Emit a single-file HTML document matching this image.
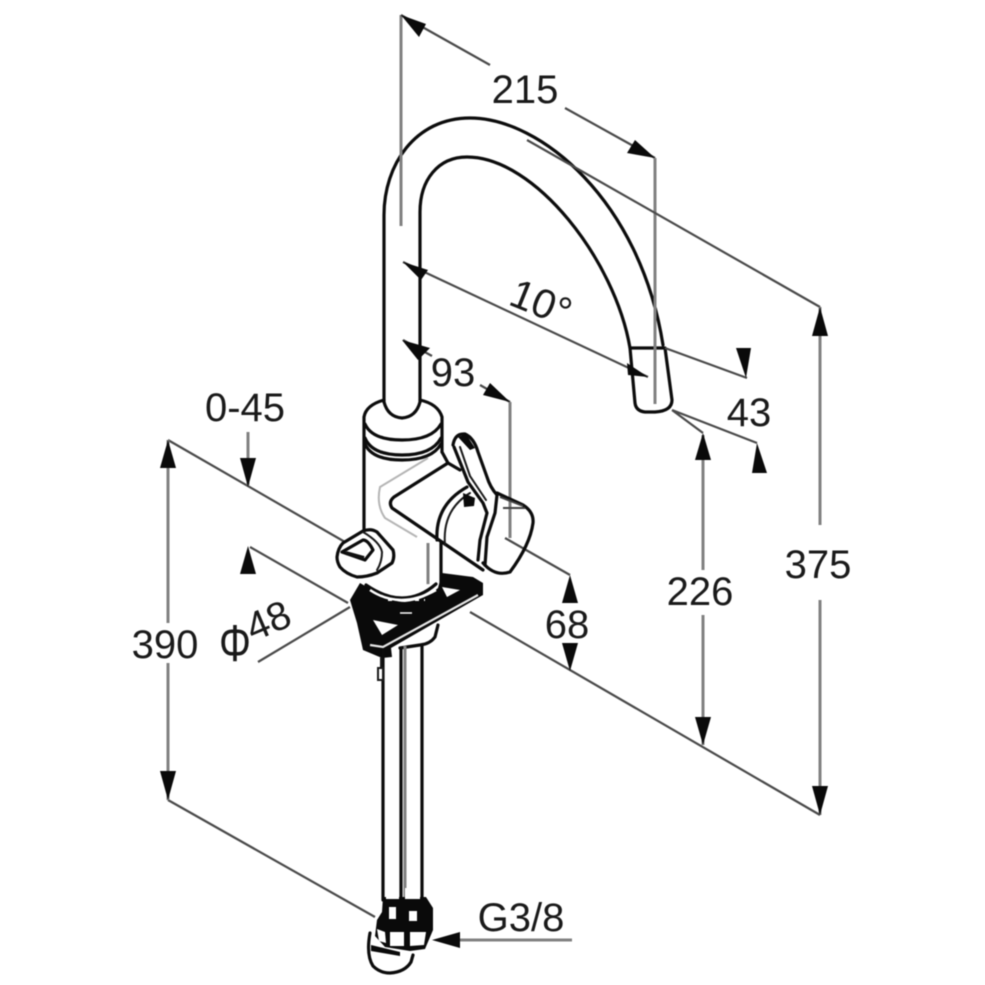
<!DOCTYPE html>
<html><head><meta charset="utf-8"><style>
html,body{margin:0;padding:0;background:#fff}
svg{display:block;filter:blur(.6px)}
text{font-family:"Liberation Sans",sans-serif;font-size:40px;fill:#1a1a1a}
.k{fill:none;stroke:#0c0c0c;stroke-width:3.2;stroke-linecap:round;stroke-linejoin:round}
.t{fill:none;stroke:#1a1a1a;stroke-width:2;stroke-linecap:round}
.d{fill:none;stroke:#4a4a4a;stroke-width:2.2}
.g{fill:none;stroke:#808080;stroke-width:3}
.a{fill:#0a0a0a;stroke:none}
.w{fill:#fff;stroke:none}
</style></head><body>
<svg width="985" height="985" viewBox="0 0 985 985" xmlns="http://www.w3.org/2000/svg">
<rect width="985" height="985" fill="#fff"/>

<!-- spout -->
<path class="k" d="M384 402V215C384 165 415 118 470 118C540 118 640 200 663 345"/>
<path class="k" d="M420 402V212C420 180 438 157 467 157C535 157 615 260 630 348"/>
<path class="k" d="M630 348H665L672 400Q672 411 655 412H645Q636 411 635 403L630 348"/>

<!-- extension and dimension lines -->
<path class="g" d="M401 15V226"/>
<path class="d" d="M401 15L490 65M565 108L655 158"/>
<path class="g" d="M655 158V404"/>
<path class="d" d="M527 140L820 307"/>
<path class="g" d="M820 307V525M820 600V815"/>
<path class="d" d="M470 612L820 815"/>
<path class="d" d="M168 440L345 542"/>
<path class="d" d="M168 800L375 917"/>
<path class="g" d="M168 440V623M168 663V800"/>
<path class="d" d="M403 262L648 377"/>
<path class="d" d="M403 340L432 356M480 385L510 402"/>
<path class="g" d="M510 402V538"/>
<path class="d" d="M505 538L570 575"/>
<path class="g" d="M703 435V570M703 615V745"/>
<path class="d" d="M665 348L747 378M672 410L757 443M672 410L703 433"/>
<path class="g" d="M248 432V485"/>
<path class="d" d="M250 547L348 603M258 662L350 607"/>
<path class="g" d="M460 940H572"/>

<!-- arrowheads -->
<path class="a" d="M401 15L426 24L419 37Z"/>
<path class="a" d="M655 158L627 153L635 140Z"/>
<path class="a" d="M820 307L828 336H812Z"/>
<path class="a" d="M820 815L828 786H812Z"/>
<path class="a" d="M168 440L176 468H160Z"/>
<path class="a" d="M168 800L176 771H160Z"/>
<path class="a" d="M403 262L428 270L421 280Z"/>
<path class="a" d="M648 377L627 363L628 375Z"/>
<path class="a" d="M402 340L430 348L418 360Z"/>
<path class="a" d="M510 402L483 395L490 383Z"/>
<path class="a" d="M570 575L578 603H562Z"/>
<path class="a" d="M570 671L578 643H562Z"/>
<path class="a" d="M703 433L711 460H695Z"/>
<path class="a" d="M703 745L711 717H695Z"/>
<path class="a" d="M746 378L736 348H751Z"/>
<path class="a" d="M757 443L767 473H752Z"/>
<path class="a" d="M248 487L240 458H256Z"/>
<path class="a" d="M248 546L256 574H240Z"/>
<path class="a" d="M432 940L460 932V948Z"/>

<!-- body -->
<path class="k" d="M364 530V417Q366 405 384 400M420 400Q438 404 442 417V452"/>
<path class="k" d="M384 402Q388 417 402 418Q416 417 420 402"/>
<path class="k" d="M365 424Q372 440 402 440Q432 440 441 424"/>
<path class="k" d="M365 438Q372 455 402 455Q432 455 441 438"/>
<path class="k" d="M365 444Q372 460 402 460Q432 460 441 444"/>
<path d="M428 458L380 487Q376 505 385 518L417 537" fill="none" stroke="#b5b5b5" stroke-width="2"/>
<path class="k" d="M448 463L394 497Q388 502 392 508L483 570"/>
<path class="k" d="M442 452L448 463L460 470"/>
<path class="k" d="M497 493L523 505Q534 512 533 523Q530 545 510 572Q495 577 483 563"/>
<path class="k" d="M437 540Q435 505 467 487"/>
<path class="t" d="M445 545Q442 510 470 493"/>
<path class="k" d="M453 445Q455 433 465 434Q474 438 478 452L487 477Q490 487 497 495L495 513L487 537L485 565"/>
<path class="k" d="M454 447L468 482L483 503L487 513L480 540L478 560"/>
<path class="t" d="M460 447L470 476L486 500"/>
<path class="a" d="M463 493L475 498L474 506L464 507Z"/>
<path class="a" d="M458 437L466 434L475 448L470 450Z"/>
<path d="M500 497L523 506M503 508H525" fill="none" stroke="#444" stroke-width="2"/>
<path class="g" d="M428 543V585"/>
<path class="k" d="M441 543V585"/>

<!-- knob -->
<path class="k" style="fill:#fff" d="M337 557Q338 548 343 543L363 531Q371 528 377 532L393 550Q395 557 392 563L377 573Q367 577 357 577Q346 574 340 567Q337 562 337 557Z"/>
<path class="k" d="M342 552L363 540Q368 540 373 550L365 560Z"/>
<path d="M346 553L364 558" stroke="#111" stroke-width="4" fill="none"/>
<path class="t" d="M363 532Q380 542 382 552Q382 562 377 570"/>

<!-- base plate -->
<path class="a" d="M350 600L360 583L372 590Q390 602 405 602Q425 600 438 588L442 573L473 577L483 583L483 595L391 648L392 657L382 658L363 650L357 623Z"/>
<path class="k" style="fill:#fff" d="M366 585Q385 598 402 598Q420 598 436 584"/>
<path d="M370 590Q400 610 436 590" fill="none" stroke="#fff" stroke-width="2.5"/>
<path d="M388 600H425" stroke="#fff" stroke-width="2" stroke-dasharray="4 5" fill="none"/>
<path class="w" d="M373 620L398 625L382 635Z"/>
<path class="w" d="M442 587L460 590L447 597Z"/>
<path d="M370 645L383 647L478 595" fill="none" stroke="#e6e6e6" stroke-width="2.2"/>
<path d="M400 613H412" stroke="#fff" stroke-width="1.5" fill="none"/>
<path class="k" d="M438 625L435 637Q430 644 420 645L400 648"/>

<!-- pipes -->
<path class="k" d="M383 650V900"/>
<path class="k" d="M401 648V900"/>
<path class="g" d="M405 646V900"/>
<path class="k" d="M422 645V900"/>
<path class="t" d="M381 658V668"/>
<path class="t" style="fill:#fff" d="M378 668H383V680H378Z"/>

<!-- fittings -->
<path class="a" d="M383 897H426L433 908L433 930L425 949L410 951L385 947L375 936L377 920L382 912Z"/>
<path class="w" d="M386 888H399V899H386ZM405 888H420V899H405Z"/>
<path class="w" d="M389 907H396V919H389ZM409 911H417V921H409Z"/>
<path class="w" d="M377 929L385 932L386 943L379 941ZM390 932H404V946H390ZM410 932H426L424 945L410 946Z"/>
<path class="k" d="M370 933Q366 955 373 966Q380 973 390 973Q405 972 411 962L413 955"/>
<path class="a" d="M371 945L400 952V956L371 951Z"/>

<!-- labels -->
<text x="525" y="103" text-anchor="middle">215</text>
<text x="818" y="578" text-anchor="middle">375</text>
<text x="700" y="605" text-anchor="middle">226</text>
<text x="749" y="426" text-anchor="middle">43</text>
<text x="567" y="638" text-anchor="middle">68</text>
<text x="453" y="386" text-anchor="middle">93</text>
<text x="245" y="421" text-anchor="middle">0-45</text>
<text x="165" y="658" text-anchor="middle">390</text>
<text x="521" y="931" text-anchor="middle">G3/8</text>
<text transform="translate(235 661) scale(1 1.3)" text-anchor="middle">Φ</text>
<text transform="translate(253 642) rotate(-23)">48</text>
<text transform="translate(507 304) rotate(22)" style="font-size:41px">10°</text>
</svg>
</body></html>
